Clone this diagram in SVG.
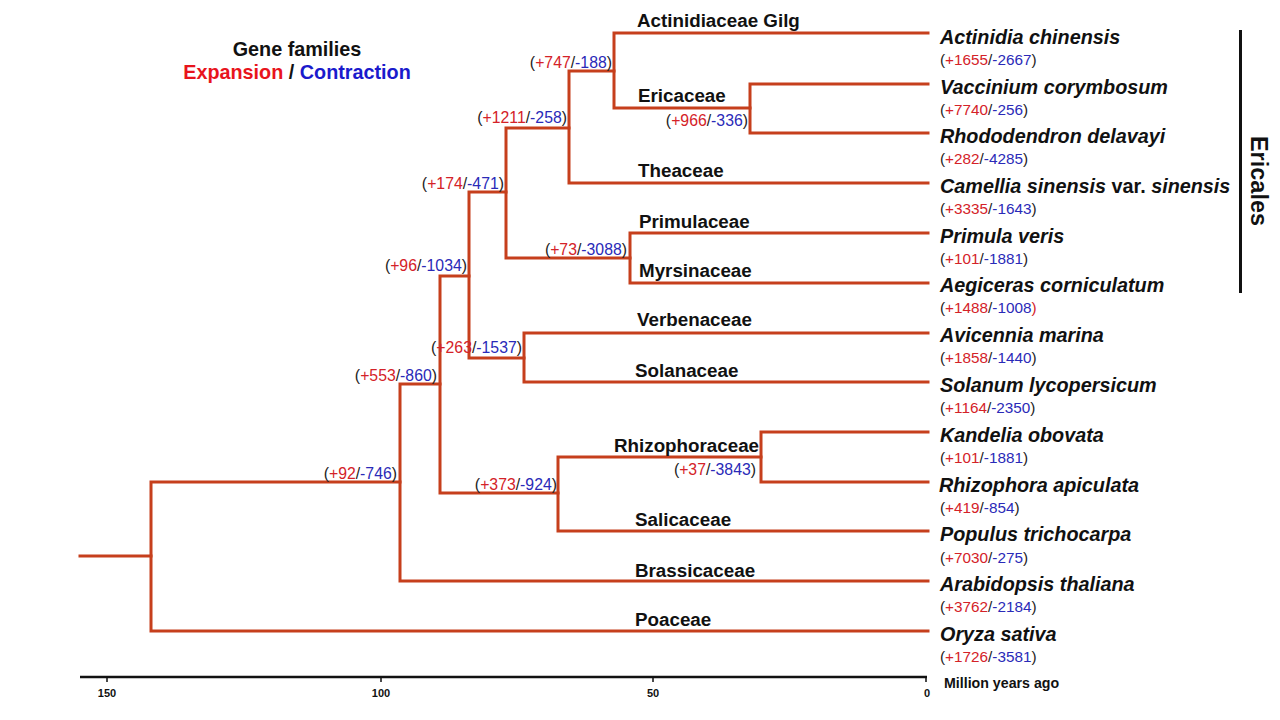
<svg xmlns="http://www.w3.org/2000/svg" width="1280" height="720" viewBox="0 0 1280 720">
<style>
.br{fill:none;stroke:#C63F1C;stroke-width:3;stroke-linejoin:miter;stroke-linecap:square}
.fam{font-family:"Liberation Sans",Arial,sans-serif;font-weight:bold;font-size:18.8px;fill:#111}
.sp{font-family:"Liberation Sans",Arial,sans-serif;font-weight:bold;font-style:italic;font-size:19.8px;fill:#111}
.sp .up{font-style:normal}
.nl{font-family:"Liberation Sans",Arial,sans-serif;font-size:15.8px;fill:#222;text-anchor:end}
.cl{font-family:"Liberation Sans",Arial,sans-serif;font-size:15.3px;fill:#222}
.r{fill:#D42228}
.b{fill:#2A2AB8}
.ax{font-family:"Liberation Sans",Arial,sans-serif;font-weight:bold;font-size:11px;fill:#111;text-anchor:middle}
.leg{font-family:"Liberation Sans",Arial,sans-serif;font-weight:bold;font-size:19.8px;text-anchor:middle}
</style>
<rect width="1280" height="720" fill="#fff"/>

<g id="legend">
<text class="leg" x="297" y="56" fill="#111">Gene families</text>
<text class="leg" x="297" y="79"><tspan fill="#E8141C">Expansion</tspan><tspan fill="#111"> / </tspan><tspan fill="#1A1ACC">Contraction</tspan></text>
</g>

<g id="connectors">
<path class="br" d="M80,556 H151"/>
<path class="br" d="M400,482 H151 V631 H928"/>
<path class="br" d="M440,384 H400 V581 H928"/>
<path class="br" d="M469,276 H440 V493 H558"/>
<path class="br" d="M506,192 H469 V358 H524"/>
<path class="br" d="M569,128 H506 V258 H630"/>
<path class="br" d="M614,71 H569 V183 H928"/>
<path class="br" d="M928,33 H614 V108 H750"/>
<path class="br" d="M928,84 H750 V133 H928"/>
<path class="br" d="M928,233 H630 V283 H928"/>
<path class="br" d="M928,333 H524 V382 H928"/>
<path class="br" d="M761,457 H558 V531 H928"/>
<path class="br" d="M928,432 H761 V482 H928"/>
</g>

<g id="node-root"><text class="nl" x="397" y="479">(<tspan class="r">+92</tspan>/<tspan class="b">-746</tspan>)</text></g>
<g id="node-553"><text class="nl" x="437" y="381">(<tspan class="r">+553</tspan>/<tspan class="b">-860</tspan>)</text></g>
<g id="node-96"><text class="nl" x="467" y="271">(<tspan class="r">+96</tspan>/<tspan class="b">-1034</tspan>)</text></g>
<g id="node-174"><text class="nl" x="504" y="189">(<tspan class="r">+174</tspan>/<tspan class="b">-471</tspan>)</text></g>
<g id="node-1211"><text class="nl" x="567" y="123">(<tspan class="r">+1211</tspan>/<tspan class="b">-258</tspan>)</text></g>
<g id="node-747"><text class="nl" x="612" y="68">(<tspan class="r">+747</tspan>/<tspan class="b">-188</tspan>)</text></g>
<g id="node-966"><text class="nl" x="748" y="126">(<tspan class="r">+966</tspan>/<tspan class="b">-336</tspan>)</text></g>
<g id="node-73"><text class="nl" x="627" y="255">(<tspan class="r">+73</tspan>/<tspan class="b">-3088</tspan>)</text></g>
<g id="node-263"><text class="nl" x="522" y="353">(<tspan class="r">+263</tspan>/<tspan class="b">-1537</tspan>)</text></g>
<g id="node-373"><text class="nl" x="557" y="490">(<tspan class="r">+373</tspan>/<tspan class="b">-924</tspan>)</text></g>
<g id="node-37"><text class="nl" x="756" y="475">(<tspan class="r">+37</tspan>/<tspan class="b">-3843</tspan>)</text></g>

<g id="families">
<text class="fam" x="637" y="27">Actinidiaceae Gilg</text>
<text class="fam" x="638" y="102">Ericaceae</text>
<text class="fam" x="638" y="177">Theaceae</text>
<text class="fam" x="639" y="228">Primulaceae</text>
<text class="fam" x="639" y="277">Myrsinaceae</text>
<text class="fam" x="637" y="326">Verbenaceae</text>
<text class="fam" x="635" y="377">Solanaceae</text>
<text class="fam" x="614" y="452">Rhizophoraceae</text>
<text class="fam" x="635" y="526">Salicaceae</text>
<text class="fam" x="635" y="577">Brassicaceae</text>
<text class="fam" x="635" y="626">Poaceae</text>
</g>

<g id="sp-actinidia"><text class="sp" x="940" y="44">Actinidia chinensis</text><text class="cl" x="940" y="65">(<tspan class="r">+1655</tspan>/<tspan class="b">-2667</tspan>)</text></g>
<g id="sp-vaccinium"><text class="sp" x="940" y="94">Vaccinium corymbosum</text><text class="cl" x="940" y="115">(<tspan class="r">+7740</tspan>/<tspan class="b">-256</tspan>)</text></g>
<g id="sp-rhododendron"><text class="sp" x="940" y="143">Rhododendron delavayi</text><text class="cl" x="940" y="164">(<tspan class="r">+282</tspan>/<tspan class="b">-4285</tspan>)</text></g>
<g id="sp-camellia"><text class="sp" x="940" y="193">Camellia sinensis <tspan class="up">var.</tspan> sinensis</text><text class="cl" x="940" y="214">(<tspan class="r">+3335</tspan>/<tspan class="b">-1643</tspan>)</text></g>
<g id="sp-primula"><text class="sp" x="940" y="243">Primula veris</text><text class="cl" x="940" y="264">(<tspan class="r">+101</tspan>/<tspan class="b">-1881</tspan>)</text></g>
<g id="sp-aegiceras"><text class="sp" x="940" y="292">Aegiceras corniculatum</text><text class="cl" x="940" y="313">(<tspan class="r">+1488</tspan>/<tspan class="b">-1008</tspan><tspan class="r">)</tspan></text></g>
<g id="sp-avicennia"><text class="sp" x="940" y="342">Avicennia marina</text><text class="cl" x="940" y="363">(<tspan class="r">+1858</tspan>/<tspan class="b">-1440</tspan>)</text></g>
<g id="sp-solanum"><text class="sp" x="940" y="392">Solanum lycopersicum</text><text class="cl" x="940" y="413">(<tspan class="r">+1164</tspan>/<tspan class="b">-2350</tspan>)</text></g>
<g id="sp-kandelia"><text class="sp" x="940" y="442">Kandelia obovata</text><text class="cl" x="940" y="463">(<tspan class="r">+101</tspan>/<tspan class="b">-1881</tspan>)</text></g>
<g id="sp-rhizophora"><text class="sp" x="939" y="492">Rhizophora apiculata</text><text class="cl" x="940" y="513">(<tspan class="r">+419</tspan>/<tspan class="b">-854</tspan>)</text></g>
<g id="sp-populus"><text class="sp" x="940" y="541">Populus trichocarpa</text><text class="cl" x="940" y="563">(<tspan class="r">+7030</tspan>/<tspan class="b">-275</tspan>)</text></g>
<g id="sp-arabidopsis"><text class="sp" x="940" y="591">Arabidopsis thaliana</text><text class="cl" x="940" y="612">(<tspan class="r">+3762</tspan>/<tspan class="b">-2184</tspan>)</text></g>
<g id="sp-oryza"><text class="sp" x="940" y="641">Oryza sativa</text><text class="cl" x="940" y="662">(<tspan class="r">+1726</tspan>/<tspan class="b">-3581</tspan>)</text></g>

<g id="ericales">
<line x1="1240.5" y1="30" x2="1240.5" y2="293" stroke="#111" stroke-width="3"/>
<text transform="translate(1251,181) rotate(90)" text-anchor="middle" font-family="Liberation Sans, Arial, sans-serif" font-weight="bold" font-size="23.5" fill="#111">Ericales</text>
</g>

<g id="axis">
<path d="M80,677 H927" stroke="#111" stroke-width="2.5" fill="none"/>
<path d="M107,677 V682 M381,677 V682 M653,677 V682 M926,677 V682" stroke="#111" stroke-width="1.5" fill="none"/>
<text class="ax" x="107" y="697">150</text>
<text class="ax" x="381" y="697">100</text>
<text class="ax" x="653" y="697">50</text>
<text class="ax" x="927" y="697">0</text>
<text x="944" y="688" font-family="Liberation Sans, Arial, sans-serif" font-weight="bold" font-size="14.2" fill="#111">Million years ago</text>
</g>
</svg>
